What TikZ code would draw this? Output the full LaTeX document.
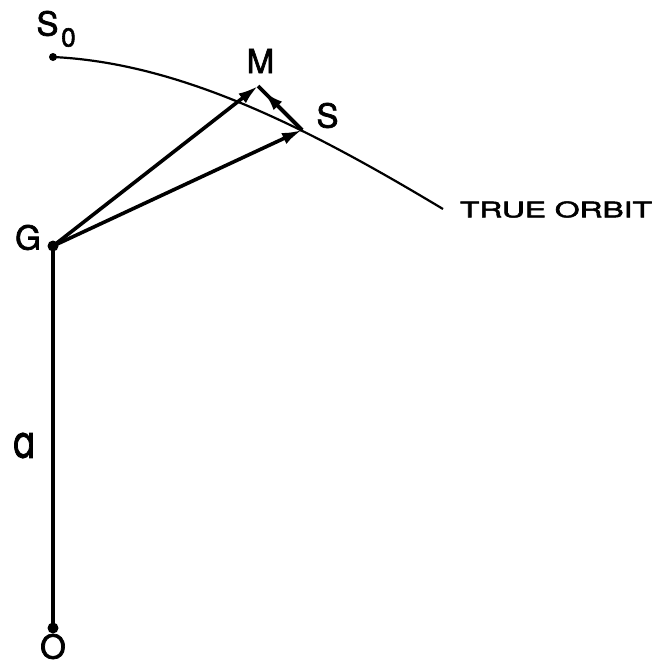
\documentclass[tikz,border=0pt]{standalone}
\usepackage{fontspec}
\setmainfont[FakeBold=2.2]{TeX Gyre Heros}
\newfontfamily\afont[FakeBold=2.2]{Poppins}
\usetikzlibrary{arrows.meta,calc}
\begin{document}
\begin{tikzpicture}[x=1pt,y=-1pt,
  lbl/.style={inner sep=0pt,font=\fontsize{33}{33}\selectfont},
  dotpt/.style={circle,fill=black,inner sep=0pt,minimum size=#1},
  vec/.style={line width=3.6pt,-{Latex[length=20pt,width=12pt]}},
  orbitline/.style={line width=2.2pt}]
\useasboundingbox (0,0) rectangle (660,667);
% points
\node[dotpt=8pt] (S0) at (53,57) {};
\node[dotpt=11pt] (G) at (53,246) {};
\node[dotpt=11pt] (O) at (53,628) {};
\coordinate (M) at (258,86);
\coordinate (S) at (302,130);
\coordinate (E) at (443,209);
% orbit
\draw[orbitline] (S0.center) .. controls (183,63) and (313,131) .. (E);
% lines and vectors
\draw[line width=4pt] (G.center) -- (O.center);
\draw[vec] (G.center) -- (M);
\draw[vec] (G.center) -- (S);
\draw[line width=3.6pt] (S) -- (M);
\draw[vec] (S) -- ($(S)!0.87!(M)$);
% labels
\node[lbl] (lS) at (47.5,23.5) {S};
\node[inner sep=0pt,font=\fontsize{26}{26}\selectfont] (lsub) at (68.5,37.5) {0};
\node[lbl] (lM) at (260.5,61) {M};
\node[lbl] (lSS) at (327.5,115.5) {S};
\node[lbl] (lG) at (28,237.5) {G};
\node[lbl] (lO) at (53,646.5) {O};
\node[inner sep=0pt] (la) at (24,445.5) {\resizebox{22pt}{25pt}{\afont a}};
\node[inner sep=0pt] (lT) at (556,209.5) {\resizebox{192pt}{16pt}{\fontsize{21}{21}\selectfont TRUE ORBIT}};
\end{tikzpicture}
\end{document}
